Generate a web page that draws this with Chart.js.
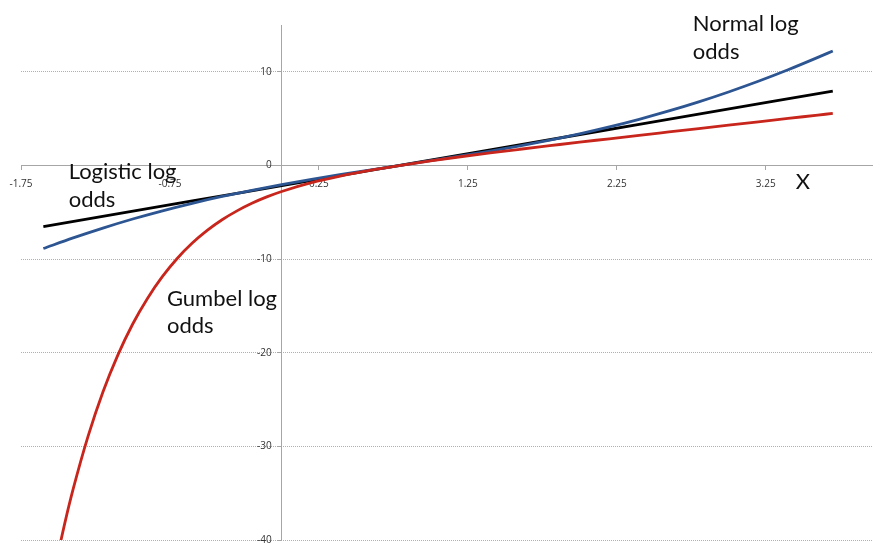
<!DOCTYPE html>
<html>
<head>
<meta charset="utf-8">
<script src="https://cdn.jsdelivr.net/npm/chart.js@4/dist/chart.umd.min.js"></script>
<style>
  html, body { margin: 0; padding: 0; background: #fff; }
  #wrap { width: 873px; height: 543px; position: relative; }
</style>
</head>
<body>
<div id="wrap"><canvas id="chart"></canvas></div>
<script>
// values
const logisticX = [-1.6, -0.6, 0.4, 1.4, 2.4, 3.7];
const logisticY = [-6.52, -3.79, -1.06, 1.66, 4.39, 7.94];

const normalX = [-1.6, -1.4, -1.2, -1.0, -0.8, -0.6, -0.4, -0.2, 0, 0.2, 0.4, 0.6, 0.8, 1.0,
  1.2, 1.4, 1.6, 1.8, 2.0, 2.2, 2.4, 2.6, 2.8, 3.0, 3.2, 3.4, 3.6, 3.7];
const normalY = [-8.87, -7.74, -6.69, -5.72, -4.84, -4.04, -3.31, -2.65, -2.04, -1.48, -0.96, -0.46, 0.02, 0.51,
  1.01, 1.54, 2.10, 2.71, 3.38, 4.12, 4.93, 5.82, 6.79, 7.85, 8.99, 10.22, 11.54, 12.23];

const gumbelX = [-1.5, -1.45, -1.4, -1.3, -1.2, -1.1, -1.0, -0.9, -0.8, -0.7, -0.6, -0.5, -0.4, -0.3,
  -0.2, -0.1, 0, 0.2, 0.4, 0.6, 0.8, 1.0, 1.2, 1.4, 1.6, 1.8, 2.0, 2.2, 2.4, 2.6, 2.8, 3.0, 3.2, 3.4, 3.6, 3.7];
const gumbelY = [-41.35, -37.79, -34.57, -28.93, -24.19, -20.25, -16.93, -14.17, -11.85, -9.91, -8.29, -6.94, -5.80, -4.85,
  -4.04, -3.36, -2.78, -1.84, -1.11, -0.50, 0.02, 0.49, 0.93, 1.34, 1.73, 2.11, 2.49, 2.85, 3.22, 3.58, 3.94, 4.30, 4.66, 5.02, 5.38, 5.56];

const xTicks = [-1.75, -0.75, 0.25, 1.25, 2.25, 3.25];
const xTickLabels = ["-1.75", "-0.75", "0.25", "1.25", "2.25", "3.25"];
const yTicks = [-40, -30, -20, -10, 0, 10];
const yTickLabels = ["-40", "-30", "-20", "-10", "0", "10"];

// curve labels, anchored in data units (left end of first baseline)
const notes = [
  { lines: ["Logistic log", "odds"], x: -1.43, y: -1.45, align: "left" },
  { lines: ["Gumbel log", "odds"], x: -0.77, y: -15.0, align: "left" },
  { lines: ["Normal log", "odds"], x: 2.76, y: 14.32, align: "left" },
  { lines: ["X"], x: 3.5, y: -2.5, align: "center" },
];

const pts = (xs, ys) => xs.map((x, i) => ({ x: x, y: ys[i] }));

const notesPlugin = {
  id: "notes",
  afterDatasetsDraw(chart) {
    const ctx = chart.ctx;
    const sx = chart.scales.x, sy = chart.scales.y;
    ctx.save();
    ctx.font = "22px Lato";
    ctx.fillStyle = "#111111";
    ctx.textBaseline = "alphabetic";
    notes.forEach(n => {
      ctx.textAlign = n.align;
      const px = sx.getPixelForValue(n.x);
      const py = sy.getPixelForValue(n.y);
      n.lines.forEach((t, i) => ctx.fillText(t, px, py + i * 27.5));
    });
    ctx.restore();
  }
};

const noPad = scale => {
  scale.paddingLeft = 0; scale.paddingRight = 0;
  scale.paddingTop = 0; scale.paddingBottom = 0;
};

const line = (label, data, color) => ({
  label: label,
  data: data,
  showLine: true,
  borderColor: color,
  borderWidth: 2.8,
  pointRadius: 0,
  cubicInterpolationMode: "monotone",
  fill: false,
});

new Chart(document.getElementById("chart"), {
  type: "scatter",
  data: {
    datasets: [
      line("Gumbel log odds", pts(gumbelX, gumbelY), "#c8261c"),
      line("Normal log odds", pts(normalX, normalY), "#2c5592"),
      line("Logistic log odds", pts(logisticX, logisticY), "#000000"),
    ],
  },
  options: {
    responsive: true,
    maintainAspectRatio: false,
    animation: false,
    layout: { padding: { left: 21, right: 0, top: 25, bottom: 3 } },
    plugins: {
      legend: { display: false },
      title: { display: false },
      tooltip: { enabled: false },
    },
    scales: {
      x: {
        type: "linear",
        position: { y: 0 },
        min: -1.75,
        max: 3.97,
        afterBuildTicks: axis => { axis.ticks = xTicks.map(v => ({ value: v })); },
        afterFit: noPad,
        grid: { drawOnChartArea: false, drawTicks: true, tickLength: 4, tickColor: "#a6a6a6" },
        border: { display: true, color: "#a6a6a6", width: 1 },
        ticks: {
          maxRotation: 0,
          autoSkip: false,
          padding: 9,
          color: "#333333",
          font: { family: "Open Sans", size: 10 },
          callback: (v, i) => xTickLabels[i],
        },
      },
      y: {
        type: "linear",
        position: { x: 0 },
        min: -40,
        max: 15,
        afterBuildTicks: axis => { axis.ticks = yTicks.map(v => ({ value: v })); },
        afterFit: noPad,
        grid: {
          drawOnChartArea: true,
          color: "#b0b0b0",
          drawTicks: true,
          tickLength: 4,
          tickColor: "#a6a6a6",
          tickBorderDash: [],
        },
        border: { display: true, color: "#a6a6a6", width: 1, dash: [1, 1] },
        ticks: {
          color: "#333333",
          font: { family: "Open Sans", size: 10 },
          callback: (v, i) => yTickLabels[i] + "\u2002\u2002",
        },
      },
    },
  },
  plugins: [notesPlugin],
});
</script>
</body>
</html>
